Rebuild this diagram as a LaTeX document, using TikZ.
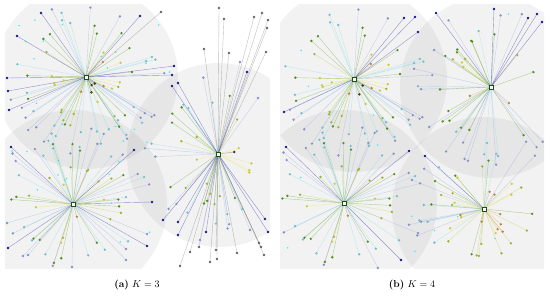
\documentclass[tikz,border=0pt]{standalone}
\definecolor{pc0}{HTML}{5A3A10}
\definecolor{pc1}{HTML}{D89040}
\definecolor{pc2}{HTML}{E8E444}
\definecolor{pc3}{HTML}{B4CC40}
\definecolor{pc4}{HTML}{5EA028}
\definecolor{pc5}{HTML}{80D8E8}
\definecolor{pc6}{HTML}{96A6E0}
\definecolor{pc7}{HTML}{1A1AA0}
\definecolor{pc8}{HTML}{707070}
\definecolor{straycyan}{HTML}{40EEF0}
\definecolor{ctrgreen}{HTML}{1E4E1E}
\tikzset{
  ray/.style={line width=0.4pt, opacity=0.45},
  disk/.style={fill=black, fill opacity=0.05},
  center mark/.style={draw=ctrgreen, fill=white, line width=0.7pt, minimum size=4pt, inner sep=0pt, rectangle},
}
% random cluster pass: cx cy N rmax seed xmin xmax mode(0 lines,1 points)
\newcommand\clusterpass[8]{%
  \pgfmathsetseed{#5}%
  \foreach \i in {1,...,#3}{%
    \pgfmathsetmacro\ang{rnd*360}%
    \pgfmathsetmacro\rad{5+(#4-5)*sqrt(rnd)}%
    \pgfmathsetmacro\px{#1+\rad*cos(\ang)}%
    \pgfmathsetmacro\py{#2+\rad*sin(\ang)}%
    \pgfmathtruncatemacro\idx{max(0,min(6,floor(\rad/#4*7+(rnd-0.5)*1.6)))}%
    \pgfmathtruncatemacro\out{(\px<#6)||(\px>#7)||(\py<6)||(\py>268)}%
    \ifnum\out=0
      \ifnum#8=0
        \draw[ray, pc\idx] (#1,#2) -- (\px,\py);
      \else
        \fill[pc\idx!88!black] (\px,\py) circle[radius=1.3pt];
      \fi
    \fi
  }%
}
% explicit points: cx cy colour list mode
\newcommand\drawpts[5]{%
  \foreach \qx/\qy in {#4}{%
    \ifnum#5=0
      \draw[ray, #3] (#1,#2) -- (\qx,\qy);
    \else
      \fill[#3!88!black] (\qx,\qy) circle[radius=1.35pt];
    \fi
  }%
}
% stray dots: seed N x0 x1 y0 y1
\newcommand\stray[6]{%
  \pgfmathsetseed{#1}%
  \foreach \i in {1,...,#2}{%
    \pgfmathsetmacro\px{#3+(#4-#3)*rnd}%
    \pgfmathsetmacro\py{#5+(#6-#5)*rnd}%
    \fill[straycyan] (\px,\py) circle[radius=0.9pt];
  }%
}
\newcommand\allcontent[1]{%
  % panel (a)
  \clusterpass{86}{77}{72}{80}{101}{6}{269}{#1}%
  \clusterpass{73}{204}{62}{80}{202}{6}{269}{#1}%
  \clusterpass{218}{154}{42}{80}{303}{6}{269}{#1}%
  \drawpts{86}{77}{pc7}{41/13,17/36,140/16,174/66,172/75,7/78,8/91,9/110}{#1}%
  \drawpts{86}{77}{pc8}{161/12}{#1}%
  \drawpts{73}{204}{pc7}{11/147,134/150,152/202,147/246,8/248}{#1}%
  \drawpts{73}{204}{pc6}{7/223,23/256,28/255,126/249,126/260,72/267}{#1}%
  \drawpts{218}{154}{pc8}{219/8,224/19,204/49,229/53,254/17,262/13,268/20,267/28,266/52,180/266,190/252,199/247,210/262,217/259,216/250,237/253,259/243,261/247,264/255}{#1}%
  \drawpts{218}{154}{pc7}{163/220,178/222,178/235,206/232,265/219,268/232,172/86,178/83,247/72}{#1}%
  \drawpts{218}{154}{pc6}{240/62,258/98,200/240,250/230}{#1}%
  % panel (b)
  \clusterpass{354}{79}{68}{80}{101}{281}{543}{#1}%
  \clusterpass{491}{87}{45}{80}{404}{281}{543}{#1}%
  \clusterpass{344}{203}{62}{80}{202}{281}{543}{#1}%
  \clusterpass{484}{209}{55}{80}{505}{281}{543}{#1}%
  \drawpts{354}{79}{pc7}{404/18,415/17,418/32,284/112}{#1}%
  \drawpts{491}{87}{pc7}{436/13,494/9,528/18,537/14,542/22}{#1}%
  \drawpts{344}{203}{pc7}{286/147,409/151,401/260}{#1}%
  \drawpts{484}{209}{pc7}{425/156}{#1}%
}
\begin{document}
\begin{tikzpicture}[x=1pt,y=-1pt]
\useasboundingbox (0,0) rectangle (550,296);
% discs
\begin{scope}
  \clip (5,5) rectangle (270,269);
  \fill[disk] (86,77) circle[radius=92pt];
  \fill[disk] (73,204) circle[radius=94pt];
  \fill[disk] (219,155) circle[radius=92pt];
\end{scope}
\begin{scope}
  \clip (280,5) rectangle (544,269);
  \fill[disk] (354,79) circle[radius=93pt];
  \fill[disk] (491,87) circle[radius=91pt];
  \fill[disk] (344,203) circle[radius=93pt];
  \fill[disk] (484,209) circle[radius=92pt];
\end{scope}
% stray dots
\stray{11}{30}{5}{180}{8}{255}
\stray{12}{12}{282}{540}{8}{255}
% lines, then points
\allcontent{0}
\allcontent{1}
% centres
\node[center mark] (ca1) at (86,77) {};
\node[center mark] (ca2) at (73,204) {};
\node[center mark] (ca3) at (218,154) {};
\node[center mark] (cb1) at (354,79) {};
\node[center mark] (cb2) at (491,87) {};
\node[center mark] (cb3) at (344,203) {};
\node[center mark] (cb4) at (484,209) {};
% captions
\node[font=\fontsize{10}{12}\selectfont] (capa) at (137,285) {\textbf{(a)} $K=3$};
\node[font=\fontsize{10}{12}\selectfont] (capb) at (412,285) {\textbf{(b)} $K=4$};
\end{tikzpicture}
\end{document}
